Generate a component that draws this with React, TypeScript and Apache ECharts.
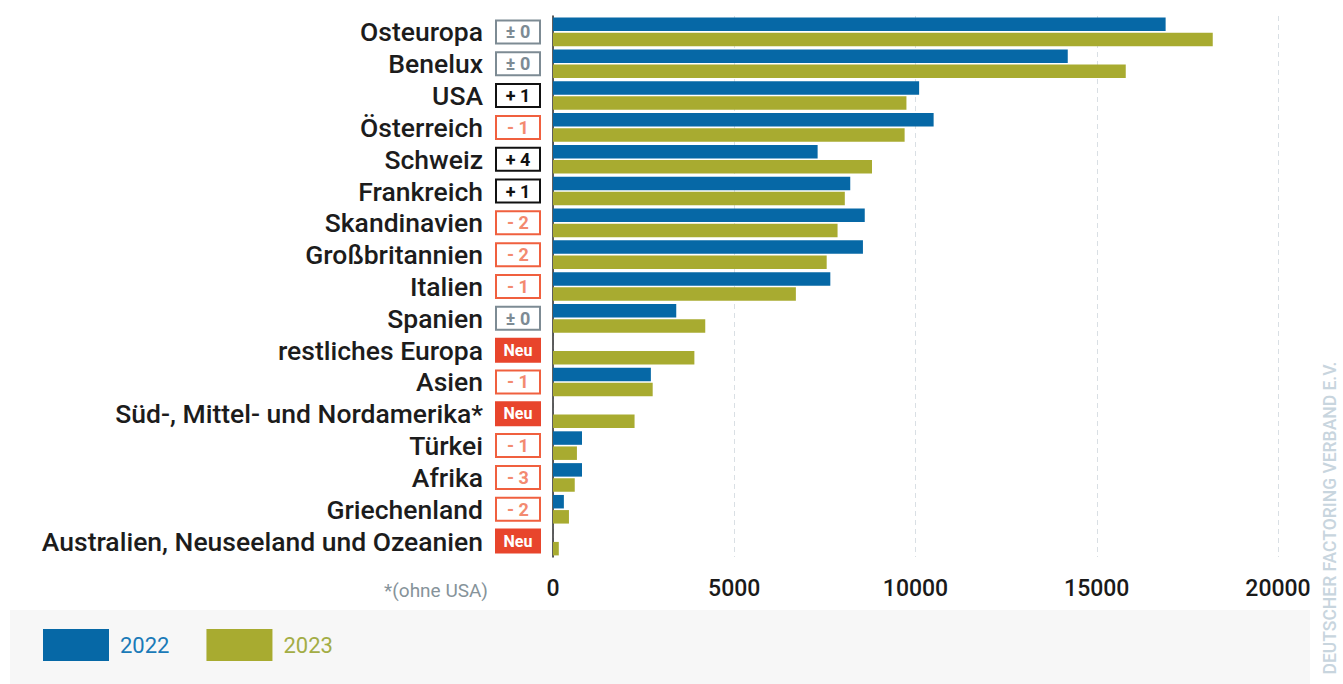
import React, { useEffect, useRef } from "react";
import * as echarts from "echarts";

const categories = [
  "Osteuropa",
  "Benelux",
  "USA",
  "Österreich",
  "Schweiz",
  "Frankreich",
  "Skandinavien",
  "Großbritannien",
  "Italien",
  "Spanien",
  "restliches Europa",
  "Asien",
  "Süd-, Mittel- und Nordamerika*",
  "Türkei",
  "Afrika",
  "Griechenland",
  "Australien, Neuseeland und Ozeanien",
];

const rankChanges = [
  "± 0", "± 0", "+ 1", "- 1", "+ 4", "+ 1", "- 2", "- 2", "- 1",
  "± 0", "Neu", "- 1", "Neu", "- 1", "- 3", "- 2", "Neu",
];

const values2022 = [
  16900, 14200, 10100, 10500, 7300, 8200, 8600, 8550, 7650,
  3400, null, 2700, null, 800, 800, 300, null,
];

const values2023 = [
  18200, 15800, 9750, 9700, 8800, 8050, 7850, 7550, 6700,
  4200, 3900, 2750, 2250, 660, 600, 440, 160,
];

const xTicks = { min: 0, max: 20000, interval: 5000 };

const BLUE = "#0668a6";
const OLIVE = "#a8ab30";
const FONT = "Roboto, 'Noto Sans', sans-serif";

function badgeStyle(t: string): string {
  if (t === "Neu") return "neu";
  if (t.startsWith("±")) return "gray";
  if (t.startsWith("+")) return "black";
  return "red";
}

export default function App() {
  const ref = useRef<HTMLDivElement>(null);

  useEffect(() => {
    if (!ref.current) return;
    const chart = echarts.init(ref.current, undefined, { renderer: "svg" });
    const badgeBase = {
      width: 42,
      height: 21,
      align: "center",
      verticalAlign: "middle",
      borderWidth: 2,
      fontSize: 18,
      fontWeight: 700,
      fontFamily: FONT,
      lineHeight: 21,
      backgroundColor: "#ffffff",
    };
    chart.setOption({
      animation: false,
      backgroundColor: "#ffffff",
      grid: { left: 553, right: 65, top: 16, height: 541, containLabel: false },
      xAxis: {
        type: "value",
        min: xTicks.min,
        max: xTicks.max,
        interval: xTicks.interval,
        axisLine: { show: false },
        axisTick: { show: false },
        splitLine: {
          show: true,
          lineStyle: { color: "#d9dfe4", type: [5, 4], width: 1 },
        },
        axisLabel: {
          margin: 20,
          fontSize: 23,
          fontWeight: 500,
          color: "#1a1a1a",
          fontFamily: FONT,
          showMinLabel: true,
          showMaxLabel: true,
          formatter: (v: number) => String(v),
        },
      },
      yAxis: {
        type: "category",
        inverse: true,
        data: categories,
        axisTick: { show: false },
        axisLine: { show: true, lineStyle: { color: "#2a2a2a", width: 1.5 } },
        axisLabel: {
          margin: 14,
          interval: 0,
          formatter: (value: string, index: number) => {
            const t = rankChanges[index];
            return `{name|${value}}{sp|}{${badgeStyle(t)}|${t}}`;
          },
          rich: {
            name: {
              fontSize: 26.5,
              fontWeight: 500,
              color: "#1c1c1c",
              fontFamily: FONT,
            },
            sp: { width: 14 },
            gray: { ...badgeBase, borderColor: "#7d8b94", color: "#7d8b94" },
            black: { ...badgeBase, borderColor: "#111111", color: "#111111" },
            red: { ...badgeBase, borderColor: "#f0603f", color: "#f38a70" },
            neu: {
              ...badgeBase,
              borderColor: "#e8452c",
              backgroundColor: "#e8452c",
              color: "#ffffff",
              fontSize: 16,
            },
          },
        },
      },
      legend: {
        left: 38,
        top: 624,
        icon: "rect",
        itemWidth: 66,
        itemHeight: 32,
        itemGap: 37,
        textStyle: { fontSize: 22, fontFamily: FONT, padding: [0, 0, 0, 6] },
        data: [
          { name: "2022", textStyle: { color: "#1a7ab8" } },
          { name: "2023", textStyle: { color: "#a3ad45" } },
        ],
      },
      series: [
        {
          name: "2022",
          type: "bar",
          data: values2022,
          barWidth: 13.5,
          barGap: "12%",
          itemStyle: { color: BLUE },
        },
        {
          name: "2023",
          type: "bar",
          data: values2023,
          barWidth: 13.5,
          barGap: "12%",
          itemStyle: { color: OLIVE },
        },
      ],
      graphic: [
        {
          type: "rect",
          z: -10,
          shape: { x: 10, y: 610, width: 1300, height: 74 },
          style: { fill: "#f7f7f7" },
        },
        {
          type: "text",
          x: 488,
          y: 590,
          style: {
            text: "*(ohne USA)",
            fill: "#86939a",
            fontSize: 19,
            fontFamily: FONT,
            align: "right",
            verticalAlign: "middle",
          },
        },
        {
          type: "text",
          x: 1330,
          y: 518,
          rotation: Math.PI / 2,
          style: {
            text: "DEUTSCHER FACTORING VERBAND E.V.",
            fill: "#c8d5de",
            fontSize: 17.5,
            fontWeight: 500,
            fontFamily: FONT,
            align: "center",
            verticalAlign: "middle",
          },
        },
      ],
    });
    return () => chart.dispose();
  }, []);

  return (
    <div
      ref={ref}
      style={{ position: "fixed", left: 0, top: 0, width: 1343, height: 684 }}
    />
  );
}
